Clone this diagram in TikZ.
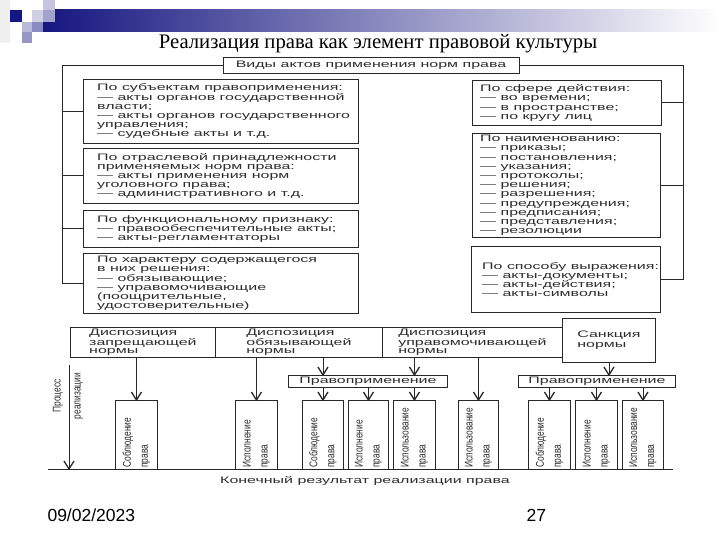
\documentclass[tikz,border=0pt]{standalone}
\usepackage{fontspec}
\setmainfont{Liberation Serif}
\newfontfamily\scanfont[FakeStretch=1.7]{Liberation Sans}
\newfontfamily\scannarrow[FakeStretch=0.75]{Liberation Sans}
\newfontfamily\slidefont{Liberation Sans}

\definecolor{slidenavy}{RGB}{22,22,128}
\definecolor{scanink}{RGB}{40,40,40}
\definecolor{scantext}{RGB}{45,45,45}

\newcommand\actfont[1]{\scanfont\fontsize{9.4}{#1}\selectfont}
\newcommand\actbox[5]{
  \node[actbox, minimum width=#4pt, minimum height=#5pt] (#1) at (#2, -#3) {};
}
\newcommand\realbox[4]{
  \node[actbox, minimum width={(#3-#2)*1pt}, minimum height=69pt] (#1) at (#2, -400) {};
  \node[realtext] (#1t) at ([yshift=2pt]#1.south) {#4};
}
\newcommand\scanarrow[2]{
  \draw[scanline] (#1) -- (#2);
  \draw[scanline, line width=1.3pt] ([shift={(-5pt,8pt)}]#2) -- (#2) -- ([shift={(5pt,8pt)}]#2);
}

\tikzset{
  actbox/.style={draw=scanink, line width=0.9pt, anchor=north west, inner sep=0pt},
  acttext/.style={anchor=west, align=left, inner sep=0pt, text=scantext, font=\actfont{9.2}},
  normtext/.style={align=left, inner sep=0pt, text=scantext, font=\actfont{8.7}},
  realtext/.style={rotate=90, anchor=west, align=left, inner sep=0pt, text=scantext,
    font=\scannarrow\fontsize{11.2}{17}\selectfont},
  scanline/.style={draw=scanink, line width=0.9pt},
}

\begin{document}
\begin{tikzpicture}[x=1pt, y=1pt]
  \useasboundingbox (0,0) rectangle (720,-540);
  \fill[white] (0,0) rectangle (720,-540);
  % slide header
  \fill[black!6] (0,0) rectangle (10,-43);
  \shade[left color=slidenavy, right color=white] (43,-10) rectangle (720,-32);
  \fill[slidenavy] (10,-10) rectangle (22,-22);
  \fill[slidenavy!25] (43,0) rectangle (55,-10);
  \fill[slidenavy!40] (43,-10) rectangle (55,-22);
  \fill[slidenavy!20] (32,-10) rectangle (43,-22);
  \fill[slidenavy!30] (22,-22) rectangle (32,-32);
  \fill[slidenavy!50] (32,-22) rectangle (43,-32);
  \fill[slidenavy!45] (22,-32) rectangle (32,-43);
  \node (title) at (378,-44) {\fontsize{20.7}{20.7}\selectfont Реализация права как элемент правовой культуры};

  \node[actbox, anchor=center, minimum width=296pt, minimum height=16pt, font=\actfont{10}, text=scantext]
    (kinds) at (371,-65) {Виды актов применения норм права};
  \actbox{subj}{83}{79}{275}{64}
  \actbox{branch}{83}{148}{275}{55}
  \actbox{func}{83}{210}{275}{37}
  \actbox{decis}{83}{253}{275}{60}
  \actbox{sphere}{472}{80}{189}{45}
  \actbox{naming}{472}{133}{188}{104}
  \actbox{express}{471}{246}{189}{66}
  \node[acttext] (subjt) at ([xshift=14pt]subj.west) {По субъектам правоприменения:\\— акты органов государственной\\власти;\\— акты органов государственного\\управления;\\— судебные акты и т.д.};
  \node[acttext] (brancht) at ([xshift=14pt]branch.west) {По отраслевой принадлежности\\применяемых норм права:\\— акты применения норм\\уголовного права;\\— административного и т.д.};
  \node[acttext] (funct) at ([xshift=14pt]func.west) {По функциональному признаку:\\— правообеспечительные акты;\\— акты-регламентаторы};
  \node[acttext] (decist) at ([xshift=14pt]decis.west) {По характеру содержащегося\\в них решения:\\— обязывающие;\\— управомочивающие\\(поощрительные,\\удостоверительные)};
  \node[acttext] (spheret) at ([xshift=8pt]sphere.west) {По сфере действия:\\— во времени;\\— в пространстве;\\— по кругу лиц};
  \node[acttext] (namingt) at ([xshift=8pt]naming.west) {По наименованию:\\— приказы;\\— постановления;\\— указания;\\— протоколы;\\— решения;\\— разрешения;\\— предупреждения;\\— предписания;\\— представления;\\— резолюции};
  \node[acttext] (expresst) at ([xshift=11pt]express.west) {По способу выражения:\\— акты-документы;\\— акты-действия;\\— акты-символы};
  \coordinate (leftbus) at (62,0);
  \coordinate (rightbus) at (683,0);
  \draw[scanline] (kinds.west) -| (leftbus |- decis.west) -- (decis.west);
  \foreach \b in {subj, branch, func} \draw[scanline] (leftbus |- \b.west) -- (\b.west);
  \draw[scanline] (kinds.east) -| (rightbus |- express.east) -- (express.east);
  \foreach \b in {sphere, naming} \draw[scanline] (rightbus |- \b.east) -- (\b.east);

  % realization
  \node[actbox, normtext, minimum width=145pt, minimum height=30pt] (forbid) at (70,-327) {Диспозиция\\запрещающей\\нормы};
  \node[actbox, normtext, minimum width=167pt, minimum height=30pt] (oblig) at (215,-327) {Диспозиция\\обязывающей\\нормы};
  \node[actbox, normtext, minimum width=180pt, minimum height=30pt] (permit) at (382,-327) {Диспозиция\\управомочивающей\\нормы};
  \node[actbox, normtext, font=\actfont{10}, minimum width=93pt, minimum height=44pt] (sanct) at (562,-318) {Санкция\\нормы};
  \node[actbox, normtext, minimum width=159pt, minimum height=12pt] (applyL) at (288,-375) {Правоприменение};
  \node[actbox, normtext, minimum width=157pt, minimum height=12pt] (applyR) at (518,-375) {Правоприменение};
  \realbox{keep1}{115}{157}{Соблюдение\\права}
  \realbox{exec1}{235}{277}{Исполнение\\права}
  \realbox{keep2}{302}{343}{Соблюдение\\права}
  \realbox{exec2}{348}{388}{Исполнение\\права}
  \realbox{use1}{393}{435}{Использование\\права}
  \realbox{use2}{458}{498}{Использование\\права}
  \realbox{keep3}{528}{570}{Соблюдение\\права}
  \realbox{exec3}{575}{617}{Исполнение\\права}
  \realbox{use3}{622}{663}{Использование\\права}
  \foreach \b/\src in {keep1/forbid, exec1/oblig, use2/permit} {
    \coordinate (\b from) at (\b |- \src.south);
    \scanarrow{\b from}{\b.north}
  }
  \coordinate (oblig out) at (keep2 |- oblig.south);
  \coordinate (applyL in1) at (keep2 |- applyL.north);
  \scanarrow{oblig out}{applyL in1}
  \coordinate (permit out) at (use1 |- permit.south);
  \coordinate (applyL in2) at (use1 |- applyL.north);
  \scanarrow{permit out}{applyL in2}
  \foreach \b in {keep2, exec2, use1} {
    \coordinate (\b from) at (\b |- applyL.south);
    \scanarrow{\b from}{\b.north}
  }
  \coordinate (applyR in) at (sanct.south |- applyR.north);
  \scanarrow{sanct.south}{applyR in}
  \foreach \b in {keep3, exec3, use3} {
    \coordinate (\b from) at (\b |- applyR.south);
    \scanarrow{\b from}{\b.north}
  }
  \coordinate (baseL) at (48,-469);
  \coordinate (baseR) at (673,-469);
  \draw[scanline] (baseL) -- (baseR);
  \coordinate (procstart) at (69,-365);
  \coordinate (procend) at (procstart |- baseL);
  \scanarrow{procstart}{procend}
  \node[realtext, anchor=center, align=center, font=\scannarrow\fontsize{11.2}{20}\selectfont]
    (proc) at (68,-396) {Процесс\\реализации};
  \node[font=\actfont{10}, text=scantext] (result) at (365,-481) {Конечный результат реализации права};

  \node[anchor=west, font=\slidefont\fontsize{17.5}{17.5}\selectfont] (date) at (44,-515) {09/02/2023};
  \node[anchor=west, font=\slidefont\fontsize{17.5}{17.5}\selectfont] (pageno) at (523,-515) {27};
\end{tikzpicture}
\end{document}
